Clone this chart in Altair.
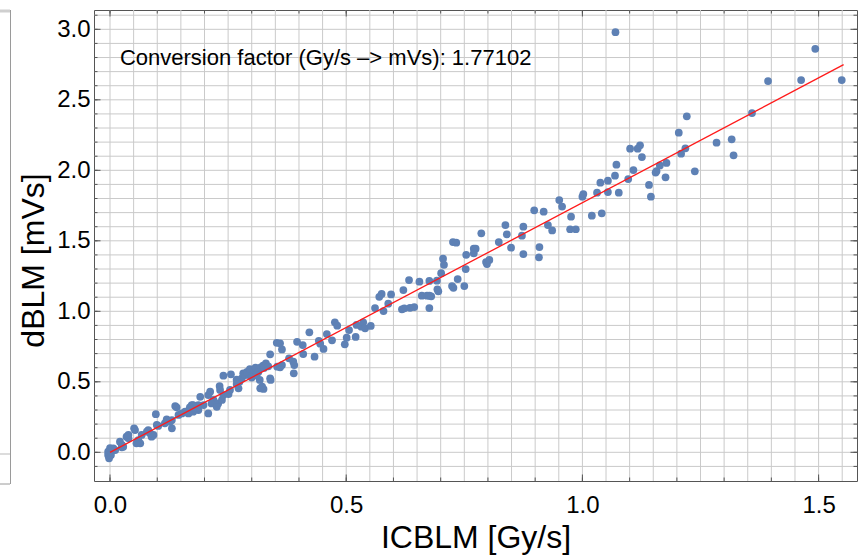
import altair as alt
import pandas as pd

# ---------------- data ----------------
icblm = [
    0.000, -0.004, -0.004, -0.002, 0.004, 0.002, 0.011, 0.007, 0.025, 0.021,
    0.025, 0.028, 0.039, 0.035, 0.039, 0.053, 0.051, 0.067, 0.060, 0.064,
    0.056, 0.092, 0.088, 0.085, 0.078, 0.081, 0.102, 0.099, 0.097, 0.131,
    0.116, 0.120, 0.131, 0.127, 0.145, 0.138, 0.141, 0.159, 0.166, 0.152,
    0.173, 0.180, 0.187, 0.176, 0.208, 0.198, 0.187, 0.176, 0.169, 0.191,
    0.212, 0.208, 0.219, 0.215, 0.229, 0.226, 0.237, 0.240, 0.251, 0.254,
    0.232, 0.233, 0.240, 0.256, 0.274, 0.268, 0.272, 0.318, 0.279, 0.282,
    0.286, 0.294, 0.300, 0.304, 0.312, 0.319, 0.324, 0.330, 0.317, 0.325,
    0.322, 0.339, 0.340, 0.339, 0.353, 0.354, 0.360, 0.364, 0.364, 0.360,
    0.379, 0.388, 0.390, 0.389, 0.396, 0.408, 0.409, 0.422, 0.433, 0.442,
    0.445, 0.452, 0.459, 0.470, 0.476, 0.481, 0.497, 0.501, 0.506, 0.520,
    0.522, 0.532, 0.536, 0.540, 0.552, 0.561, 0.570, 0.575, 0.579, 0.589,
    0.595, 0.618, 0.623, 0.635, 0.644, 0.621, 0.633, 0.655, 0.660, 0.671,
    0.676, 0.680, 0.676, 0.676, 0.692, 0.693, 0.695, 0.701, 0.705, 0.707,
    0.724, 0.727, 0.726, 0.733, 0.736, 0.750, 0.753, 0.754, 0.770, 0.774,
    0.770, 0.786, 0.796, 0.798, 0.803, 0.823, 0.837, 0.840, 0.849, 0.872,
    0.875, 0.875, 0.898, 0.908, 0.909, 0.918, 0.927, 0.936, 0.951, 0.957,
    0.974, 0.986, 0.976, 1.000, 1.002, 1.020, 1.041, 1.031, 1.038, 1.054,
    1.054, 1.069, 1.072, 1.077, 1.070, 1.097, 1.101, 1.108, 1.117, 1.122,
    1.126, 1.141, 1.145, 1.155, 1.157, 1.164, 1.176, 1.178, 1.204, 1.209,
    1.218, 1.221, 1.238, 1.284, 1.316, 1.320, 1.359, 1.393, 1.463, 1.493,
    1.549, 0.290, 0.296, 0.308, 0.314, 0.326, 0.335, 0.310, 0.268, 0.300,
]
dblm = [
    0.030, 0.004, -0.019, -0.043, 0.011, -0.019, 0.016, 0.028, 0.052, 0.075,
    0.035, 0.040, 0.099, 0.111, 0.123, 0.158, 0.170, 0.123, 0.087, 0.064,
    0.064, 0.123, 0.111, 0.135, 0.146, 0.158, 0.187, 0.194, 0.270, 0.170,
    0.206, 0.234, 0.229, 0.217, 0.265, 0.328, 0.319, 0.288, 0.276, 0.276,
    0.335, 0.312, 0.300, 0.288, 0.276, 0.335, 0.335, 0.335, 0.319, 0.394,
    0.430, 0.406, 0.371, 0.347, 0.347, 0.323, 0.371, 0.406, 0.413, 0.442,
    0.470, 0.442, 0.543, 0.553, 0.501, 0.484, 0.454, 0.454, 0.525, 0.560,
    0.548, 0.548, 0.560, 0.584, 0.584, 0.603, 0.614, 0.631, 0.513, 0.449,
    0.465, 0.525, 0.513, 0.695, 0.777, 0.607, 0.603, 0.619, 0.730, 0.773,
    0.667, 0.643, 0.619, 0.560, 0.784, 0.761, 0.697, 0.851, 0.678, 0.791,
    0.770, 0.733, 0.839, 0.794, 0.922, 0.898, 0.766, 0.813, 0.867, 0.818,
    0.903, 0.891, 0.922, 0.879, 0.896, 1.023, 1.103, 1.123, 1.002, 1.054,
    1.120, 1.014, 1.021, 1.025, 1.030, 1.151, 1.222, 1.210, 1.111, 1.111,
    1.111, 1.106, 1.023, 1.215, 1.217, 1.156, 1.142, 1.270, 1.373, 1.330,
    1.179, 1.167, 1.491, 1.487, 1.229, 1.179, 1.300, 1.401, 1.444, 1.444,
    1.411, 1.553, 1.349, 1.335, 1.364, 1.491, 1.612, 1.546, 1.451, 1.536,
    1.600, 1.406, 1.716, 1.383, 1.456, 1.707, 1.612, 1.574, 1.789, 1.743,
    1.582, 1.582, 1.671, 1.813, 1.832, 1.678, 1.695, 1.841, 1.912, 1.926,
    1.846, 1.962, 2.040, 1.841, 2.980, 1.938, 2.153, 2.002, 2.153, 2.177,
    2.094, 1.896, 1.813, 1.984, 1.995, 2.035, 1.950, 2.052, 2.267, 2.118,
    2.156, 2.383, 1.993, 2.196, 2.220, 2.106, 2.406, 2.633, 2.640, 2.862,
    2.640, 0.570, 0.590, 0.600, 0.570, 0.598, 0.610, 0.545, 0.515, 0.530,
]

fit_x = [0.0, 1.553]
fit_y = [0.0, 2.750]

ann_x = [0.021]
ann_y = [2.80]
ann_text = ["Conversion factor (Gy/s \u2013> mVs): 1.77102"]

x_labels = [0.0, 0.5, 1.0, 1.5]
y_labels = [0.0, 0.5, 1.0, 1.5, 2.0, 2.5, 3.0]
x_minor = [round(0.1 * i, 1) for i in range(16)]
y_minor = [round(-0.1 + 0.1 * i, 1) for i in range(33)]
x_grid = [round(0.05 * i, 2) for i in range(32)]
y_grid = [round(-0.1 + 0.1 * i, 1) for i in range(33)]

# ---------------- styling ----------------
FONT = "Liberation Sans"
W, H = 763, 471
GRID = "#cacaca"
FRAME = "#555555"
BLUE = "#5E81B5"

xs = alt.Scale(domain=[-0.0339, 1.5813], nice=False, zero=False)
ys = alt.Scale(domain=[-0.2035, 3.137], nice=False, zero=False)

XAX = alt.Axis(title="ICBLM [Gy/s]", values=x_labels, format=".1f", grid=False,
               ticks=False, tickSize=0, domain=False, labelFontSize=24,
               labelFont=FONT, labelColor="black", labelPadding=12,
               labelFlush=False, labelOverlap=False, titleFontSize=32,
               titleFont=FONT, titleFontWeight="normal", titleColor="black",
               titlePadding=5)
YAX = alt.Axis(title="dBLM [mVs]", values=y_labels, format=".1f", grid=False,
               ticks=False, tickSize=0, domain=False, labelFontSize=24,
               labelFont=FONT, labelColor="black", labelPadding=4,
               labelFlush=False, labelOverlap=False, titleFontSize=32,
               titleFont=FONT, titleFontWeight="normal", titleColor="black",
               titlePadding=6, titleY=250)


def X(field):
    return alt.X(field, scale=xs, axis=XAX)


def Y(field):
    return alt.Y(field, scale=ys, axis=YAX)


pts = pd.DataFrame({"x": icblm, "y": dblm})
fit = pd.DataFrame({"x": fit_x, "y": fit_y})
ann = pd.DataFrame({"x": ann_x, "y": ann_y, "t": ann_text})

grid_v = alt.Chart(pd.DataFrame({"x": x_grid})).mark_rule(
    color=GRID, strokeWidth=1).encode(x=X("x:Q"))
grid_h = alt.Chart(pd.DataFrame({"y": y_grid})).mark_rule(
    color=GRID, strokeWidth=1).encode(y=Y("y:Q"))


def xticks(vals, length):
    d = pd.DataFrame({"x": vals})
    bottom = alt.Chart(d).mark_rule(color=FRAME, strokeWidth=1).encode(
        x=X("x:Q"), y=alt.value(H), y2=alt.value(H - length))
    top = alt.Chart(d).mark_rule(color=FRAME, strokeWidth=1).encode(
        x=X("x:Q"), y=alt.value(0), y2=alt.value(length))
    return [bottom, top]


def yticks(vals, length):
    d = pd.DataFrame({"y": vals})
    left = alt.Chart(d).mark_rule(color=FRAME, strokeWidth=1).encode(
        y=Y("y:Q"), x=alt.value(0), x2=alt.value(length))
    right = alt.Chart(d).mark_rule(color=FRAME, strokeWidth=1).encode(
        y=Y("y:Q"), x=alt.value(W), x2=alt.value(W - length))
    return [left, right]


points = alt.Chart(pts).mark_circle(size=60, color=BLUE, opacity=1).encode(
    x=X("x:Q"), y=Y("y:Q"))

line = alt.Chart(fit).mark_line(color="#ff1a1a", strokeWidth=1.3).encode(
    x=X("x:Q"), y=Y("y:Q"))

label = alt.Chart(ann).mark_text(align="left", baseline="middle", fontSize=22,
                                  font=FONT, color="black").encode(
    x=X("x:Q"), y=Y("y:Q"), text="t:N")

# fragment of a neighbouring frame visible at the left edge of the picture
one = pd.DataFrame({"a": [0]})
edge_v = alt.Chart(one).mark_rule(color="#9a9a9a", strokeWidth=1).encode(
    x=alt.value(-83.5), y=alt.value(0), y2=alt.value(474))
edge_top = alt.Chart(one).mark_rule(color="#cfcfcf", strokeWidth=3).encode(
    x=alt.value(-94), x2=alt.value(-84), y=alt.value(1))
edge_mid = alt.Chart(one).mark_rule(color="#d0d0d0", strokeWidth=1.5).encode(
    x=alt.value(-94), x2=alt.value(-84), y=alt.value(444))
edge_bot = alt.Chart(one).mark_rule(color="#9a9a9a", strokeWidth=1).encode(
    x=alt.value(-94), x2=alt.value(-84), y=alt.value(474))

layers = [grid_v, grid_h]
layers += xticks(x_minor, 3.5) + xticks(x_labels, 6.5)
layers += yticks(y_minor, 3.5) + yticks(y_labels, 6.5)
layers += [points, line, label, edge_v, edge_top, edge_mid, edge_bot]

chart = alt.layer(*layers).properties(
    width=W, height=H,
    padding={"left": 94, "top": 10, "right": 5, "bottom": 77},
    autosize=alt.AutoSizeParams(type="none"),
    background="white",
).configure_view(stroke=FRAME, strokeWidth=1)

chart.save("out.html", embed_options={"renderer": "svg", "actions": False})
